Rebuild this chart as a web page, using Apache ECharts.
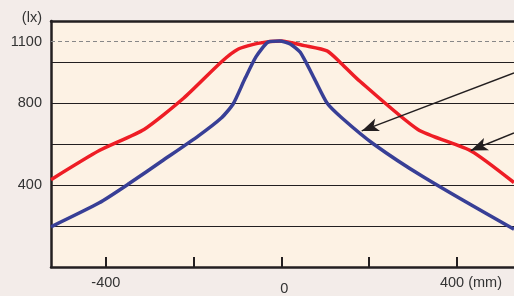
<!DOCTYPE html>
<html><head><meta charset="utf-8">
<script src="https://cdn.jsdelivr.net/npm/echarts@6/dist/echarts.min.js"></script>
<style>html,body{margin:0;padding:0;background:#F3ECE9}#c{width:514px;height:296px}</style>
</head><body><div id="c"></div>
<script>
// Positions in mm, illuminance in lx
const redPositions  = [-525, -415, -313, -223, -137, -99, -54, 0, 52, 104, 133, 172, 311, 433, 530];
const redValues     = [ 426,  568,  671,  823, 1000, 1062, 1091, 1103, 1080, 1054, 1000, 919, 671, 565, 412];
const bluePositions = [-525, -415, -347, -268, -189, -137, -110, -83, -58, -31, -4, 20, 43, 75, 104, 138, 210, 323, 530];
const blueValues    = [ 196,  313,  407,  523,  640,  727,  795,  919, 1025, 1096, 1102, 1088, 1047, 919, 800, 727, 600, 440, 184];
const xTickValues   = [-400, -200, 0, 200, 400];
const xLabelValues  = [-400, 0, 400];
const yLabelValues  = [400, 800, 1100];
const referenceLevel = 1100;
const arrowFrom = [[530, 947], [530, 654]];
const arrowTo   = [[183, 664], [431.5, 568]];

const FONT = 'Liberation Sans, Arial, sans-serif';
const TXT = '#333333';
const INK = '#231F20';

function pairs(xs, ys){ return xs.map((x,i)=>[x, ys[i]]); }

const chart = echarts.init(document.getElementById('c'), null, {renderer:'canvas'});
chart.setOption({
  animation:false,
  backgroundColor:'#F3ECE9',
  grid:{left:51, top:21, width:468, height:251, show:true, backgroundColor:'#FDF2E4', borderWidth:0},
  graphic:[{type:'text', x:42, y:17.5, style:{text:'(lx)', align:'right', verticalAlign:'middle', fontSize:14.5, fontFamily:FONT, fill:TXT}}],
  xAxis:[{
    type:'value', min:-525, max:530, position:'bottom',
    axisLine:{show:true, onZero:false, lineStyle:{color:INK, width:2.5}},
    axisTick:{show:true, inside:true, length:10, customValues:xTickValues, lineStyle:{color:INK, width:2}},
    axisLabel:{customValues:xLabelValues, margin:8, color:TXT, fontSize:14.5, fontFamily:FONT,
      formatter:function(v){ if(v===0) return '{z|0}'; if(v===400) return '{m|400 (mm)}'; return String(v); },
      rich:{z:{padding:[6,0,0,6], fontSize:14.5, fontFamily:FONT, color:TXT},
            m:{padding:[0,0,0,28], fontSize:14.5, fontFamily:FONT, color:TXT}}},
    splitLine:{show:false}
  },{
    type:'value', min:-525, max:530, position:'top',
    axisLine:{show:true, onZero:false, lineStyle:{color:INK, width:2.5}},
    axisTick:{show:false}, axisLabel:{show:false}, splitLine:{show:false}
  }],
  yAxis:{
    type:'value', min:0, max:1200, interval:200,
    axisLine:{show:true, onZero:false, lineStyle:{color:INK, width:2.5}},
    axisTick:{show:false},
    axisLabel:{customValues:yLabelValues, margin:9, color:TXT, fontSize:14.5, fontFamily:FONT,
      formatter:function(v){ return String(v); }},
    splitLine:{show:true, lineStyle:{color:INK, width:1}}
  },
  series:[{
    type:'line', name:'red', data:pairs(redPositions, redValues), smooth:0.2, showSymbol:false, silent:true,
    lineStyle:{color:'#EE1D25', width:3.5}, z:3,
    markLine:{silent:true, symbol:['none','none'], z:1, label:{show:false},
      lineStyle:{color:'#888888', type:[4,3], width:1},
      data:[{yAxis:referenceLevel}]}
  },{
    type:'line', name:'blue', data:pairs(bluePositions, blueValues), smooth:0.2, showSymbol:false, silent:true,
    lineStyle:{color:'#383F96', width:3.5}, z:4,
    markLine:{silent:true, symbol:['none','arrow'], symbolSize:[10,17], z:10, label:{show:false},
      lineStyle:{color:INK, type:'solid', width:1.5},
      data: arrowFrom.map((f,i)=>[{coord:f},{coord:arrowTo[i]}])}
  }]
});
</script></body></html>
